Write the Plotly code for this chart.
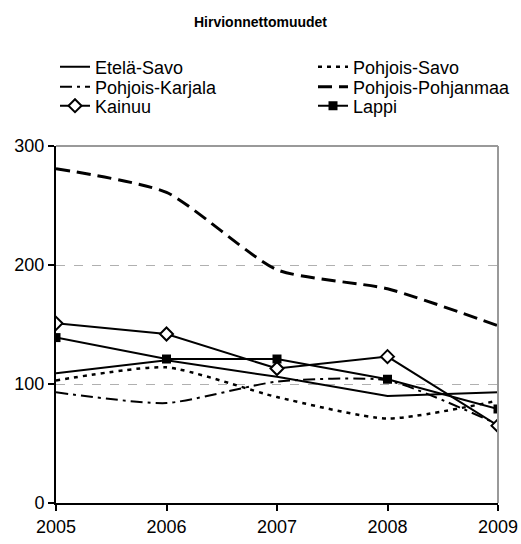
import plotly.graph_objects as go

years = [2005, 2006, 2007, 2008, 2009]
etela_savo = [109, 120, 106, 90, 93]
pohjois_savo = [103, 114, 89, 71, 86]
pohjois_karjala = [93, 84, 102, 103, 66]
pohjois_pohjanmaa = [281, 261, 196, 180, 149]
kainuu = [151, 142, 113, 123, 65]
lappi = [139, 121, 121, 104, 79]

y_ticks = [0, 100, 200, 300]

FONT = "Liberation Sans, Arial, sans-serif"
W, H = 521, 544

fig = go.Figure()
fig.add_trace(go.Scatter(x=years, y=etela_savo, name="Etelä-Savo", mode="lines",
                         line=dict(color="black", width=2), legend="legend"))
fig.add_trace(go.Scatter(x=years, y=pohjois_savo, name="Pohjois-Savo", mode="lines",
                         line=dict(color="black", width=2.5, dash="4px,5px", shape="spline", smoothing=0.6),
                         legend="legend2"))
fig.add_trace(go.Scatter(x=years, y=pohjois_karjala, name="Pohjois-Karjala", mode="lines",
                         line=dict(color="black", width=2, dash="12px,5px,3px,5px", shape="spline", smoothing=0.6),
                         legend="legend3"))
fig.add_trace(go.Scatter(x=years, y=pohjois_pohjanmaa, name="Pohjois-Pohjanmaa", mode="lines",
                         line=dict(color="black", width=3, dash="14px,7px", shape="spline", smoothing=0.6),
                         legend="legend4"))
fig.add_trace(go.Scatter(x=years, y=kainuu, name="Kainuu", mode="lines+markers",
                         line=dict(color="black", width=2),
                         marker=dict(symbol="diamond", size=10, color="white",
                                     line=dict(color="black", width=2)),
                         legend="legend5"))
fig.add_trace(go.Scatter(x=years, y=lappi, name="Lappi", mode="lines+markers",
                         line=dict(color="black", width=2),
                         marker=dict(symbol="square", size=9, color="black"),
                         legend="legend6"))


def leg(xpx, ypx):
    return dict(xref="container", yref="container", x=xpx / W, y=1 - ypx / H,
                xanchor="left", yanchor="middle", orientation="v",
                font=dict(size=18, family=FONT), bgcolor="rgba(0,0,0,0)")


col1, col2 = 55, 313
rows = [67, 87, 106]

fig.update_layout(
    width=W, height=H,
    margin=dict(l=56, r=23, t=146, b=41, autoexpand=False),
    paper_bgcolor="white", plot_bgcolor="white",
    font=dict(family=FONT, size=18, color="black"),
    title=dict(text="<b>Hirvionnettomuudet</b>", x=0.5, xanchor="center",
               xref="container", y=1 - 22 / H, yanchor="middle", yref="container",
               font=dict(size=14, family=FONT)),
    legend=leg(col1, rows[0]),
    legend2=leg(col2, rows[0]),
    legend3=leg(col1, rows[1]),
    legend4=leg(col2, rows[1]),
    legend5=leg(col1, rows[2]),
    legend6=leg(col2, rows[2]),
    showlegend=True,
)
fig.update_xaxes(range=[2005, 2009], tickvals=years, ticktext=[str(y) for y in years],
                 showgrid=False, showline=True, linecolor="black", linewidth=2,
                 ticks="outside", ticklen=6, tickwidth=2, tickcolor="black",
                 mirror=False, zeroline=False, tickfont=dict(size=18))
fig.update_yaxes(range=[0, 300], tickvals=y_ticks,
                 showgrid=True, gridcolor="#b0b0b0", griddash="dash", gridwidth=1,
                 showline=True, linecolor="black", linewidth=2,
                 ticks="outside", ticklen=6, tickwidth=2, tickcolor="black",
                 zeroline=False, tickfont=dict(size=18))
# gray border on top and right
fig.add_shape(type="line", xref="paper", yref="paper", x0=0, x1=1, y0=1, y1=1,
              line=dict(color="#999999", width=2))
fig.add_shape(type="line", xref="paper", yref="paper", x0=1, x1=1, y0=0, y1=1,
              line=dict(color="#999999", width=2))

fig.write_html("out.html", config={"displayModeBar": False},
               post_script="document.body.style.margin='0';")
